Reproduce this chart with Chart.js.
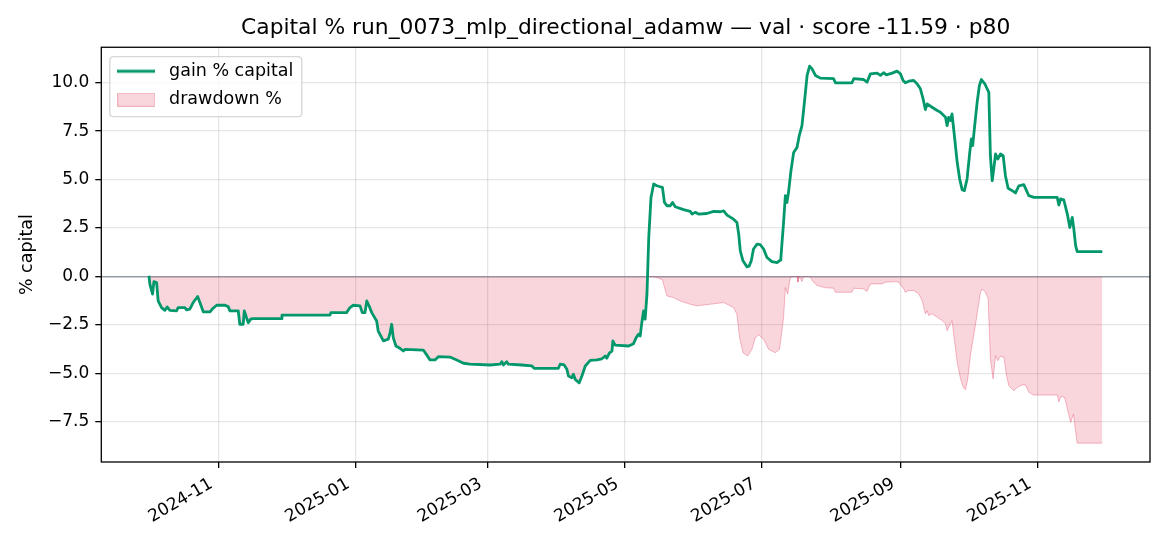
<!DOCTYPE html>
<html>
<head>
<meta charset="utf-8">
<script src="https://cdn.jsdelivr.net/npm/chart.js@4.4.1/dist/chart.umd.min.js"></script>
<style>
html,body{margin:0;padding:0;background:#ffffff;}
canvas{display:block;}
</style>
</head>
<body>
<canvas id="c" width="1170" height="546" style="width:1170px;height:546px"></canvas>
<script>
// ---------------- data ----------------
const START_DATE = '2024-10-01';
const titleText = 'Capital % run_0073_mlp_directional_adamw \u2014 val \u00b7 score -11.59 \u00b7 p80';
const seriesNames = ['gain % capital', 'drawdown %'];
const yAxisTitle = '% capital';

// days since START_DATE
const gainDays = [0,0.4,1.6,2.2,3.4,4.1,5.6,7.1,8.1,9.3,
12.3,13.0,16.0,16.8,18.2,19.7,21.7,22.7,24.2,27.2,
28.4,30.2,33.9,35.3,36.1,39.8,40.5,42.0,42.5,43.5,
44.3,45.3,46.3,59.2,59.3,80.7,81.1,88.1,89.6,91.1,
94.1,95.1,96.3,97.1,98.1,99.3,101.5,102.2,104.5,106.7,
107.5,108.2,108.9,110.1,111.9,113.4,114.2,122.3,123.8,125.3,
127.5,129.0,134.2,137.2,140.2,143.1,152.1,156.5,157.3,158.0,
159.5,160.2,166.2,170.7,171.7,182.5,183.3,185.1,186.3,187.0,
188.5,189.2,190.0,191.8,193.0,194.5,196.7,199.7,201.9,203.4,
204.1,205.3,206.4,206.8,207.8,213.8,216.0,217.2,218.2,219.0,
219.7,220.5,221.2,222.0,222.8,223.8,225.0,226.4,227.9,228.9,
229.8,230.9,232.4,233.4,234.6,238.3,241.3,242.1,243.5,245.0,
248.7,251.7,254.7,256.2,257.7,260.6,262.1,262.9,263.6,264.8,
266.6,267.6,268.5,269.5,271.1,272.5,274.0,275.5,277.7,280.0,
281.4,281.7,282.9,283.7,284.4,285.1,286.2,287.4,288.9,289.9,
291.1,292.2,293.4,294.5,295.6,297.1,299.3,305.2,306.0,313.4,
314.2,318.6,320.1,321.6,324.6,326.1,327.5,328.7,331.3,333.5,
335.0,336.2,337.2,338.7,340.9,342.4,343.9,345.1,346.1,346.9,
349.1,351.4,352.8,354.3,355.1,355.8,356.5,357.3,358.0,358.8,
360.3,361.4,362.5,363.5,364.7,365.9,366.6,367.2,368.1,369.2,
370.2,371.1,372.6,374.4,375.1,375.9,376.6,377.4,378.4,379.6,
380.8,381.8,383.0,384.8,386.3,387.8,390.0,391.2,392.2,394.5,
404.9,405.6,406.4,407.8,409.4,410.5,411.6,412.3,413.1,413.8,
425.0];

const gainValues = [0.04,-0.39,-0.91,-0.26,-0.31,-1.26,-1.60,-1.74,-1.57,-1.74,
-1.77,-1.60,-1.60,-1.72,-1.68,-1.34,-1.03,-1.34,-1.82,-1.82,
-1.65,-1.48,-1.48,-1.55,-1.77,-1.77,-2.46,-2.46,-1.77,-2.12,
-2.38,-2.20,-2.17,-2.17,-1.99,-1.99,-1.86,-1.86,-1.60,-1.48,
-1.51,-1.86,-1.86,-1.26,-1.51,-1.86,-2.29,-2.81,-3.32,-3.23,
-2.89,-2.46,-3.15,-3.58,-3.70,-3.84,-3.75,-3.79,-4.04,-4.30,
-4.30,-4.13,-4.15,-4.30,-4.47,-4.52,-4.56,-4.52,-4.39,-4.56,
-4.39,-4.52,-4.56,-4.61,-4.73,-4.73,-4.52,-4.56,-4.78,-5.13,
-5.22,-5.04,-5.30,-5.48,-5.13,-4.61,-4.32,-4.30,-4.24,-4.10,
-4.21,-3.93,-3.84,-3.32,-3.54,-3.58,-3.46,-3.15,-2.98,-3.06,
-2.38,-1.77,-2.20,-0.91,2.01,4.08,4.77,4.68,4.63,4.60,
3.82,3.65,3.65,3.82,3.60,3.45,3.36,3.22,3.31,3.22,
3.25,3.36,3.34,3.39,3.17,2.96,2.79,2.19,1.33,0.81,
0.50,0.55,0.81,1.42,1.67,1.64,1.42,0.98,0.77,0.72,
0.85,0.98,2.79,4.17,3.82,4.34,5.46,6.40,6.66,7.27,
7.78,8.99,10.37,10.85,10.71,10.37,10.23,10.20,9.99,9.99,
10.20,10.16,10.02,10.45,10.49,10.37,10.51,10.40,10.49,10.59,
10.45,10.11,9.99,10.07,10.11,9.94,9.68,9.16,8.61,8.90,
8.73,8.56,8.47,8.30,8.21,7.78,8.21,8.04,8.39,7.53,
5.89,5.03,4.48,4.43,5.03,6.40,7.10,6.75,7.78,8.99,
9.85,10.16,9.94,9.50,6.23,4.94,5.55,6.32,6.06,6.32,
6.23,5.20,4.55,4.43,4.31,4.68,4.74,4.43,4.17,4.08,
4.08,3.69,4.00,3.96,3.22,2.53,3.05,2.45,1.59,1.29,
1.29];

const drawdownDays = [0,0.4,1.6,2.2,3.4,4.1,5.6,7.1,8.1,9.3,
12.3,13.0,16.0,16.8,18.2,19.7,21.7,22.7,24.2,27.2,
28.4,30.2,33.9,35.3,36.1,39.8,40.5,42.0,42.5,43.5,
44.3,45.3,46.3,59.2,59.3,80.7,81.1,88.1,89.6,91.1,
94.1,95.1,96.3,97.1,98.1,99.3,101.5,102.2,104.5,106.7,
107.5,108.2,108.9,110.1,111.9,113.4,114.2,122.3,123.8,125.3,
127.5,129.0,134.2,137.2,140.2,143.1,152.1,156.5,157.3,158.0,
159.5,160.2,166.2,170.7,171.7,182.5,183.3,185.1,186.3,187.0,
188.5,189.2,190.0,191.8,193.0,194.5,196.7,199.7,201.9,203.4,
204.1,205.3,206.4,206.8,207.8,213.8,216.0,217.2,218.2,219.0,
219.7,220.5,221.2,222.0,
222.3,225.0,228.9,229.4,230.9,233.8,236.8,241.3,244.3,250.2,
256.2,260.6,262.1,263.3,264.8,266.9,268.8,270.3,271.8,274.0,
276.2,279.2,281.1,282.9,283.7,284.7,285.9,286.2,288.9,289.3,
289.9,291.1,291.8,294.5,296.3,297.8,301.5,305.2,306.0,313.4,
314.2,318.6,320.1,321.6,326.8,328.3,332.8,334.2,336.5,337.2,
338.7,340.9,343.1,344.7,346.1,346.9,347.6,349.1,351.4,353.6,
355.1,355.8,357.3,358.0,358.8,360.3,361.8,363.0,364.0,365.0,
366.2,367.4,368.4,369.5,370.7,371.4,372.9,374.1,375.1,376.3,
377.4,378.4,379.6,381.1,382.3,383.3,385.6,387.1,389.3,390.8,
392.2,394.5,404.9,405.6,406.7,408.2,409.4,410.9,412.1,412.8,
413.8,425.0];

const drawdownValues = [0,-0.39,-0.91,-0.26,-0.31,-1.26,-1.60,-1.74,-1.57,-1.74,
-1.77,-1.60,-1.60,-1.72,-1.68,-1.34,-1.03,-1.34,-1.82,-1.82,
-1.65,-1.48,-1.48,-1.55,-1.77,-1.77,-2.46,-2.46,-1.77,-2.12,
-2.38,-2.20,-2.17,-2.17,-1.99,-1.99,-1.86,-1.86,-1.60,-1.48,
-1.51,-1.86,-1.86,-1.26,-1.51,-1.86,-2.29,-2.81,-3.32,-3.23,
-2.89,-2.46,-3.15,-3.58,-3.70,-3.84,-3.75,-3.79,-4.04,-4.30,
-4.30,-4.13,-4.15,-4.30,-4.47,-4.52,-4.56,-4.52,-4.39,-4.56,
-4.39,-4.52,-4.56,-4.61,-4.73,-4.73,-4.52,-4.56,-4.78,-5.13,
-5.22,-5.04,-5.30,-5.48,-5.13,-4.61,-4.32,-4.30,-4.24,-4.10,
-4.21,-3.93,-3.84,-3.32,-3.54,-3.58,-3.46,-3.15,-2.98,-3.06,
-2.38,-1.77,-2.20,-0.91,
0,0,-0.16,-0.39,-1.00,-1.08,-1.26,-1.43,-1.51,-1.43,
-1.34,-1.60,-1.94,-3.15,-3.93,-4.10,-3.75,-3.15,-3.01,-3.23,
-3.75,-3.93,-3.75,-2.12,-0.57,-0.91,-0.07,0,0,-0.29,
0,-0.26,0,0,-0.29,-0.46,-0.58,-0.60,-0.81,-0.81,
-0.60,-0.64,-0.77,-0.38,-0.38,-0.29,-0.26,-0.29,-0.64,-0.81,
-0.72,-0.72,-0.89,-1.24,-1.93,-1.76,-2.01,-1.93,-2.10,-2.27,
-2.44,-2.79,-2.44,-2.27,-3.05,-4.42,-5.28,-5.71,-5.84,-5.28,
-4.08,-3.22,-2.53,-1.67,-0.81,-0.64,-0.81,-1.15,-4.25,-5.28,
-4.08,-4.34,-4.11,-4.16,-5.11,-5.63,-5.89,-5.71,-5.59,-5.59,
-5.97,-6.11,-6.11,-6.46,-6.18,-6.23,-6.83,-7.52,-7.09,-7.70,
-8.59,-8.59];

const xTickDates  = ['2024-11-01','2025-01-01','2025-03-01','2025-05-01','2025-07-01','2025-09-01','2025-11-01'];
const xTickLabels = ['2024-11','2025-01','2025-03','2025-05','2025-07','2025-09','2025-11'];
const yTickValues = [-7.5,-5,-2.5,0,2.5,5,7.5,10];
const yTickLabels = ['\u22127.5','\u22125.0','\u22122.5','0.0','2.5','5.0','7.5','10.0'];

// ---------------- styling ----------------
const GREEN = '#03986c';
const DD_FILL = 'rgba(220,20,60,0.18)';
const DD_EDGE = 'rgba(220,20,60,0.28)';
const GRID = 'rgba(176,176,176,0.32)';
const ZERO = 'rgba(120,132,148,0.8)';
const DAY = 86400000;
const t0 = Date.parse(START_DATE + 'T00:00:00Z');
const toT = d => t0 + d * DAY;
const dateT = s => Date.parse(s + 'T00:00:00Z');

// axis ranges with matplotlib-like 5% margins
const allDays = gainDays.concat(drawdownDays);
const dMin = Math.min(...allDays), dMax = Math.max(...allDays);
const dPad = (dMax - dMin) * 0.05;
const allVals = gainValues.concat(drawdownValues);
const vMin = Math.min(...allVals), vMax = Math.max(...allVals);
const vPad = (vMax - vMin) * 0.05;

function makeIcon(kind) {
  const c = document.createElement('canvas');
  c.width = 38; c.height = 14;
  const g = c.getContext('2d');
  if (kind === 'line') {
    g.strokeStyle = GREEN; g.lineWidth = 2.8;
    g.beginPath(); g.moveTo(0, 7); g.lineTo(38, 7); g.stroke();
  } else {
    g.fillStyle = DD_FILL; g.fillRect(0.5, 0.5, 37, 13);
    g.strokeStyle = DD_EDGE; g.lineWidth = 1; g.strokeRect(0.5, 0.5, 37, 13);
  }
  return c;
}
const legendIcons = [makeIcon('line'), makeIcon('patch')];

function roundRect(c, x, y, w, h, r) {
  c.beginPath();
  c.moveTo(x + r, y);
  c.lineTo(x + w - r, y); c.quadraticCurveTo(x + w, y, x + w, y + r);
  c.lineTo(x + w, y + h - r); c.quadraticCurveTo(x + w, y + h, x + w - r, y + h);
  c.lineTo(x + r, y + h); c.quadraticCurveTo(x, y + h, x, y + h - r);
  c.lineTo(x, y + r); c.quadraticCurveTo(x, y, x + r, y);
  c.closePath();
}

const framePlugin = {
  id: 'mplFrame',
  afterLayout(chart) {
    const lg = chart.legend;
    if (!lg || lg.__wrapped) return;
    const orig = lg.draw.bind(lg);
    lg.draw = function () {
      const a = chart.chartArea, c = chart.ctx;
      c.save();
      roundRect(c, a.left + 8.5, a.top + 9.4, 192, 60, 4);
      c.fillStyle = 'rgba(255,255,255,0.8)'; c.fill();
      c.strokeStyle = 'rgba(204,204,204,0.8)'; c.lineWidth = 1.3; c.stroke();
      c.translate(a.left - lg.left, a.top + 4.2 - lg.top);
      orig();
      c.restore();
    };
    lg.__wrapped = true;
  },
  afterDraw(chart) {
    const {ctx, chartArea: a} = chart;
    ctx.save();
    ctx.strokeStyle = '#000';
    ctx.lineWidth = 1.3;
    ctx.strokeRect(a.left, a.top, a.right - a.left, a.bottom - a.top);
    ctx.restore();
  }
};

Chart.defaults.font.family = "'DejaVu Sans', 'Liberation Sans', sans-serif";
Chart.defaults.color = '#000';

new Chart(document.getElementById('c').getContext('2d'), {
  type: 'line',
  data: {
    datasets: [
      {
        label: seriesNames[0],
        data: gainDays.map((d, i) => ({x: toT(d), y: gainValues[i]})),
        borderColor: GREEN,
        borderWidth: 2.8,
        borderJoinStyle: 'round',
        pointRadius: 0,
        tension: 0,
        fill: false
      },
      {
        label: seriesNames[1],
        data: drawdownDays.map((d, i) => ({x: toT(d), y: drawdownValues[i]})),
        borderColor: DD_EDGE,
        backgroundColor: DD_FILL,
        borderWidth: 1,
        pointRadius: 0,
        tension: 0,
        fill: 'origin'
      }
    ]
  },
  options: {
    responsive: false,
    animation: false,
    devicePixelRatio: 1,
    events: [],
    layout: { padding: { left: 0, right: 20, top: 0, bottom: 0 }, autoPadding: false },
    plugins: {
      title: {
        display: true,
        text: titleText,
        fullSize: false,
        color: '#000',
        font: { size: 21.8, weight: 'normal' },
        padding: { top: 15.1, bottom: 6.0 }
      },
      legend: {
        position: 'chartArea',
        align: 'start',
        labels: {
          color: '#000',
          font: { size: 17.5 },
          padding: 11,
          usePointStyle: true,
          pointStyleWidth: 48,
          boxHeight: 17,
          generateLabels: () => seriesNames.map((n, i) => ({
            text: n, pointStyle: legendIcons[i], fillStyle: '#000', fontColor: '#000',
            strokeStyle: '#000', lineWidth: 0, hidden: false, datasetIndex: i
          }))
        }
      },
      tooltip: { enabled: false }
    },
    scales: {
      x: {
        type: 'linear',
        min: toT(dMin - dPad),
        max: toT(dMax + dPad),
        afterFit: s => { s.height = 84; },
        afterBuildTicks: s => { s.ticks = xTickDates.map(d => ({value: dateT(d)})); },
        ticks: {
          autoSkip: false, minRotation: 30, maxRotation: 30, padding: 6, labelOffset: -7,
          color: '#000', font: { size: 17 },
          callback: (v, i) => xTickLabels[i]
        },
        grid: { color: GRID, lineWidth: 1.3, drawTicks: true, tickLength: 6, tickColor: '#000', tickWidth: 1.3 },
        border: { display: false }
      },
      y: {
        type: 'linear',
        min: vMin - vPad,
        max: vMax + vPad,
        afterFit: s => { s.width = 101.3; },
        afterBuildTicks: s => { s.ticks = yTickValues.map(v => ({value: v})); },
        ticks: {
          padding: 6, color: '#000', font: { size: 17 },
          callback: (v, i) => yTickLabels[i]
        },
        grid: {
          color: c => (c.tick && c.tick.value === 0) ? ZERO : GRID,
          lineWidth: c => (c.tick && c.tick.value === 0) ? 1.4 : 1.3,
          drawTicks: true, tickLength: 6, tickColor: '#000', tickWidth: 1.3
        },
        border: { display: false },
        title: {
          display: true, text: yAxisTitle, color: '#000',
          font: { size: 17.5 }, padding: { top: 17.3, bottom: 0 }
        }
      }
    }
  },
  plugins: [framePlugin]
});
</script>
</body>
</html>
